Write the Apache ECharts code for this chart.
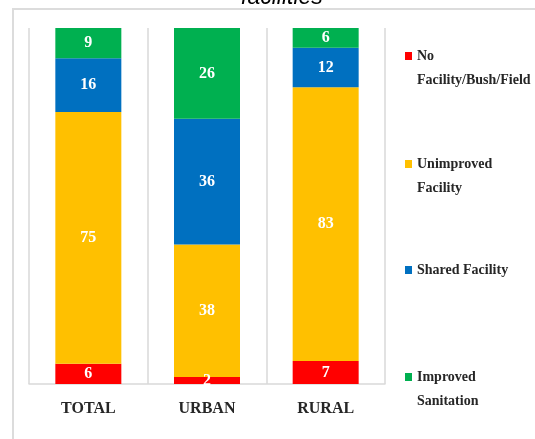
<!DOCTYPE html>
<html lang="en">
<head>
<meta charset="UTF-8">
<title>Sanitation facilities</title>
<script src="https://cdn.jsdelivr.net/npm/echarts@6/dist/echarts.min.js"></script>
<style>
    html, body { margin: 0; padding: 0; background: #fff; }
    #main { width: 535px; height: 439px; }
</style>
</head>
<body>
<div id="main"></div>
<script>
    // values as printed on the bars (%); each bar is drawn as a share of its own total
    var categories = ['TOTAL', 'URBAN', 'RURAL'];
    var noFacility = [6, 2, 7];
    var unimproved = [75, 38, 83];
    var shared = [16, 36, 12];
    var improved = [9, 26, 6];

    var seriesNames = ['No\nFacility/Bush/Field', 'Unimproved\nFacility', 'Shared Facility', 'Improved\nSanitation'];
    var seriesColors = ['#ff0000', '#ffc000', '#0070c0', '#00b050'];
    var seriesValues = [noFacility, unimproved, shared, improved];

    var totals = categories.map(function (c, i) {
        return noFacility[i] + unimproved[i] + shared[i] + improved[i];
    });

    var serif = 'Liberation Serif, Times New Roman, serif';

    var series = seriesValues.map(function (vals, k) {
        return {
            name: seriesNames[k],
            type: 'bar',
            stack: 'all',
            barWidth: 66,
            itemStyle: { color: seriesColors[k] },
            label: {
                show: true,
                position: 'inside',
                color: '#fff',
                fontFamily: serif,
                fontWeight: 'bold',
                fontSize: 16,
                formatter: function (p) { return vals[p.dataIndex]; }
            },
            data: vals.map(function (v, i) { return v / totals[i] * 100; })
        };
    });

    // one legend block per item; an empty line on top keeps the icon beside the first line
    var legendTops = [20, 128, 258, 341];
    var legends = seriesNames.map(function (n, k) {
        var twoLines = n.indexOf('\n') >= 0;
        return {
            data: [n],
            orient: 'vertical',
            left: 405,
            top: legendTops[k],
            padding: 0,
            icon: 'rect',
            itemWidth: 7,
            itemHeight: 8,
            itemGap: 4,
            selectedMode: false,
            formatter: function (name) { return twoLines ? ' \n' + name : name; },
            textStyle: {
                fontFamily: serif,
                fontWeight: 'bold',
                fontSize: 14,
                color: '#262626',
                lineHeight: 24
            }
        };
    });

    var myChart = echarts.init(document.getElementById('main'));
    myChart.setOption({
        animation: false,
        title: {
            text: 'facilities',
            left: 236,
            top: -19,
            textStyle: {
                fontFamily: 'Liberation Sans, Arial, sans-serif',
                fontStyle: 'italic',
                fontWeight: 'normal',
                fontSize: 23,
                color: '#000'
            }
        },
        graphic: [{
            type: 'rect',
            shape: { x: 13, y: 9, width: 700, height: 700 },
            style: { fill: 'none', stroke: '#dcdcdc', lineWidth: 2 },
            silent: true
        }],
        legend: legends,
        grid: { left: 29, right: 150, top: 28, bottom: 55 },
        xAxis: {
            type: 'category',
            data: categories,
            axisLine: { lineStyle: { color: '#d9d9d9', width: 1.5 } },
            axisTick: { show: false },
            splitLine: { show: true, lineStyle: { color: '#d9d9d9', width: 1.5 } },
            axisLabel: {
                margin: 17,
                fontFamily: serif,
                fontWeight: 'bold',
                fontSize: 16,
                color: '#262626'
            }
        },
        yAxis: {
            type: 'value',
            min: 0,
            max: 100,
            show: false,
            splitLine: { show: false }
        },
        series: series
    });
</script>
</body>
</html>
